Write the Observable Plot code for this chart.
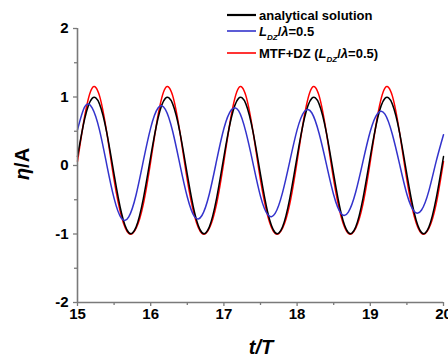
<!DOCTYPE html>
<html><head><meta charset="utf-8">
<script src="https://cdn.jsdelivr.net/npm/d3@7"></script>
<script src="https://cdn.jsdelivr.net/npm/@observablehq/plot@0.6"></script>
<style>body{margin:0;background:#fff} svg{display:block}</style>
</head><body><div id="chart"></div>
<script>
// time axis t/T
const tValues = [15.0,15.1,15.2,15.3,15.4,15.5,15.6,15.7,15.8,15.9,
  16.0,16.1,16.2,16.3,16.4,16.5,16.6,16.7,16.8,16.9,
  17.0,17.1,17.2,17.3,17.4,17.5,17.6,17.7,17.8,17.9,
  18.0,18.1,18.2,18.3,18.4,18.5,18.6,18.7,18.8,18.9,
  19.0,19.1,19.2,19.3,19.4,19.5,19.6,19.7,19.8,19.9,20.0];
// analytical solution
const analytical = [0.13,0.69,0.98,0.90,0.48,-0.13,-0.69,-0.98,-0.90,-0.48,
  0.13,0.69,0.98,0.90,0.48,-0.13,-0.69,-0.98,-0.90,-0.48,
  0.13,0.69,0.98,0.90,0.48,-0.13,-0.69,-0.98,-0.90,-0.48,
  0.13,0.69,0.98,0.90,0.48,-0.13,-0.69,-0.98,-0.90,-0.48,
  0.13,0.69,0.98,0.90,0.48,-0.13,-0.69,-0.98,-0.90,-0.48,0.13];
// L_DZ/lambda = 0.5
const ldz = [0.52,0.86,0.84,0.52,0.01,-0.48,-0.77,-0.75,-0.43,0.07,
  0.55,0.84,0.82,0.50,0.01,-0.46,-0.75,-0.73,-0.42,0.07,
  0.54,0.81,0.80,0.49,0.02,-0.45,-0.72,-0.70,-0.40,0.06,
  0.52,0.79,0.77,0.47,0.02,-0.43,-0.70,-0.68,-0.39,0.06,
  0.50,0.76,0.75,0.46,0.02,-0.42,-0.67,-0.65,-0.37,0.06,0.45];
// MTF+DZ (L_DZ/lambda = 0.5)
const mtfdz = [0.06,0.73,1.13,1.02,0.48,-0.21,-0.74,-0.99,-0.92,-0.56,
  0.06,0.73,1.13,1.02,0.48,-0.21,-0.74,-0.99,-0.92,-0.56,
  0.06,0.73,1.13,1.02,0.48,-0.21,-0.74,-0.99,-0.92,-0.56,
  0.06,0.73,1.13,1.02,0.48,-0.21,-0.74,-0.99,-0.92,-0.56,
  0.06,0.73,1.13,1.02,0.48,-0.21,-0.74,-0.99,-0.92,-0.56,0.06];

const seriesKeys = ["analytical", "ldz", "mtfdz"];
const seriesColors = ["#000000", "#3333cc", "#ff0000"];
const xTicks = [15,16,17,18,19,20];
const xMinor = [15.5,16.5,17.5,18.5,19.5];
const yTicks = [-2,-1,0,1,2];
const yMinor = [-1.5,-0.5,0.5,1.5];

const seriesValues = {analytical, ldz, mtfdz};
const rows = [];
for (const k of seriesKeys) tValues.forEach((t, i) => rows.push({t, v: seriesValues[k][i], s: k}));
const drawOrder = ["mtfdz", "analytical", "ldz"];
const colorOf = Object.fromEntries(seriesKeys.map((k, i) => [k, seriesColors[i]]));

const axisGray = "#7a7a7a";
const svg = Plot.plot({
  width: 448, height: 358,
  marginLeft: 77, marginRight: 5, marginTop: 28, marginBottom: 56,
  x: {domain: [15, 20]},
  y: {domain: [-2, 2]},
  style: {fontFamily: "'Liberation Sans', Arial, sans-serif", fontSize: "15px", fontWeight: "bold", background: "#fff"},
  marks: [
    ...drawOrder.map(k => Plot.line(rows.filter(d => d.s === k), {x: "t", y: "v", stroke: colorOf[k], strokeWidth: 1.5, curve: "natural"})),
    Plot.ruleX([15], {stroke: axisGray, strokeWidth: 1.6}),
    Plot.ruleY([-2], {stroke: axisGray, strokeWidth: 1.6}),
    Plot.axisX(xTicks, {tickSize: 4, tickPadding: 2, stroke: axisGray, fill: "#000", label: null, strokeWidth: 1.3, tickFormat: d => String(d)}),
    Plot.axisX(xMinor, {tickSize: 3, tickFormat: () => "", stroke: axisGray, label: null, strokeWidth: 1.3}),
    Plot.axisY(yTicks, {tickSize: 4, tickPadding: 5, stroke: axisGray, fill: "#000", label: null, strokeWidth: 1.3, tickFormat: d => String(d)}),
    Plot.axisY(yMinor, {tickSize: 3, tickFormat: () => "", stroke: axisGray, label: null, strokeWidth: 1.3})
  ]
});
document.getElementById("chart").appendChild(svg);

const s = d3.select(svg);
const ff = "'Liberation Sans', Arial, sans-serif";
// x axis title
const xt = s.append("text").attr("x", 261).attr("y", 354).attr("text-anchor", "middle")
  .attr("font-family", ff).attr("font-size", 20).attr("font-weight", "bold").attr("font-style", "italic").attr("fill", "#000");
xt.append("tspan").text("t/T");
// y axis title
const yt = s.append("text").attr("transform", "translate(29,164) rotate(-90)").attr("text-anchor", "middle")
  .attr("font-family", ff).attr("font-size", 20).attr("font-weight", "bold").attr("fill", "#000");
yt.append("tspan").attr("font-style", "italic").text("η");
yt.append("tspan").text("/A");

// legend
const legendY = [15, 31, 53];
const lg = s.append("g").attr("font-family", ff).attr("font-size", 13).attr("font-weight", "bold").attr("text-anchor", "start");
seriesKeys.forEach((k, i) => {
  const y = legendY[i];
  lg.append("line").attr("x1", 227).attr("x2", 256).attr("y1", y).attr("y2", y)
    .attr("stroke", seriesColors[i]).attr("stroke-width", i === 0 ? 2.2 : 1.6);
  const tx = lg.append("text").attr("x", 259).attr("y", y + 4.5).attr("fill", "#000").attr("text-anchor", "start");
  const ldzLabel = (el) => {
    el.append("tspan").attr("font-style", "italic").text("L");
    el.append("tspan").attr("font-style", "italic").attr("font-size", 8).attr("dy", 4).text("DZ");
    el.append("tspan").attr("dy", -4).text("/");
    el.append("tspan").attr("font-style", "italic").text("λ");
    el.append("tspan").text("=0.5");
  };
  if (k === "analytical") tx.append("tspan").text("analytical solution");
  else if (k === "ldz") ldzLabel(tx);
  else { tx.append("tspan").text("MTF+DZ ("); ldzLabel(tx); tx.append("tspan").text(")"); }
});
</script>
</body></html>
